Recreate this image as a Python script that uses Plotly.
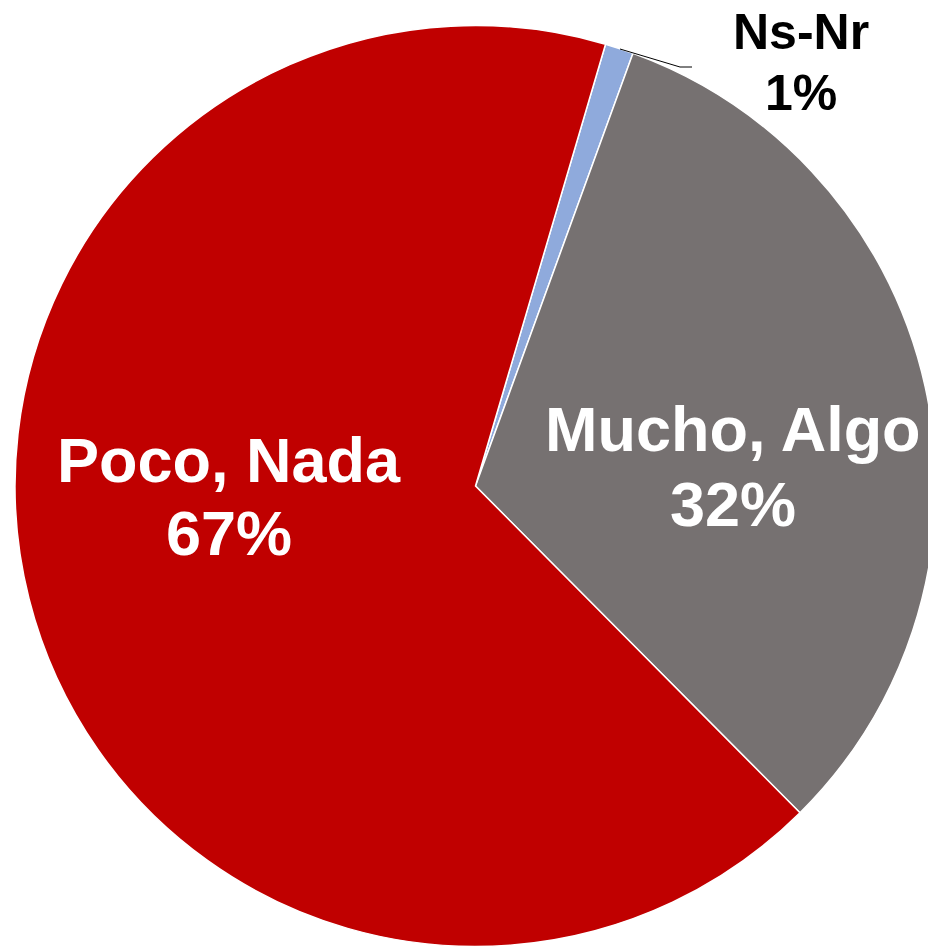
import plotly.graph_objects as go

labels = ["Ns-Nr", "Mucho, Algo", "Poco, Nada"]
values = [1, 32, 67]
colors = ["#8FAADC", "#767171", "#C00000"]

# page body has an 8px margin; size the figure so it fills the window exactly
OFF = 8
W, H = 936 - OFF, 947 - OFF

def px(x):
    return (x - OFF) / W

def py(y):
    return 1 - (y - OFF) / H

# pie centre (475.5, 486) in window pixels, radius ~460.5
cx, cy, r = 475.5 - OFF, 486 - OFF, 460.5
fig = go.Figure(go.Pie(
    labels=labels,
    values=values,
    sort=False,
    direction="clockwise",
    rotation=16.4,
    marker=dict(colors=colors, line=dict(color="white", width=1.5)),
    textinfo="none",
    hoverinfo="label+percent",
    domain=dict(x=[(cx - r) / W, min(1.0, (cx + r) / W)],
                y=[max(0.0, (H - cy - r) / H), (H - cy + r) / H]),
    showlegend=False,
))

font = "Liberation Sans, Arial, sans-serif"
# (x centre, y of name line, y of percent line, colour, size)
label_pos = {
    "Poco, Nada": (229, 460, 533, "white", 63),
    "Mucho, Algo": (733, 429, 504, "white", 63),
    "Ns-Nr": (801, 32, 93, "black", 50),
}
total = sum(values)
for lab, val in zip(labels, values):
    x, y1, y2, c, s = label_pos[lab]
    for txt, yy in ((lab, y1), (f"{round(100 * val / total)}%", y2)):
        fig.add_annotation(
            x=px(x), y=py(yy), xref="paper", yref="paper",
            text=f"<b>{txt}</b>",
            showarrow=False, xanchor="center", yanchor="middle",
            font=dict(family=font, size=s, color=c),
        )

# leader line for the small slice
fig.add_shape(
    type="path", xref="paper", yref="paper",
    path=f"M {px(620)} {py(49)} L {px(680)} {py(67)} L {px(692)} {py(67)}",
    line=dict(color="black", width=1),
)

fig.update_layout(
    width=W, height=H,
    margin=dict(l=0, r=0, t=0, b=0),
    paper_bgcolor="white",
    plot_bgcolor="white",
)

fig.write_html("out.html")
